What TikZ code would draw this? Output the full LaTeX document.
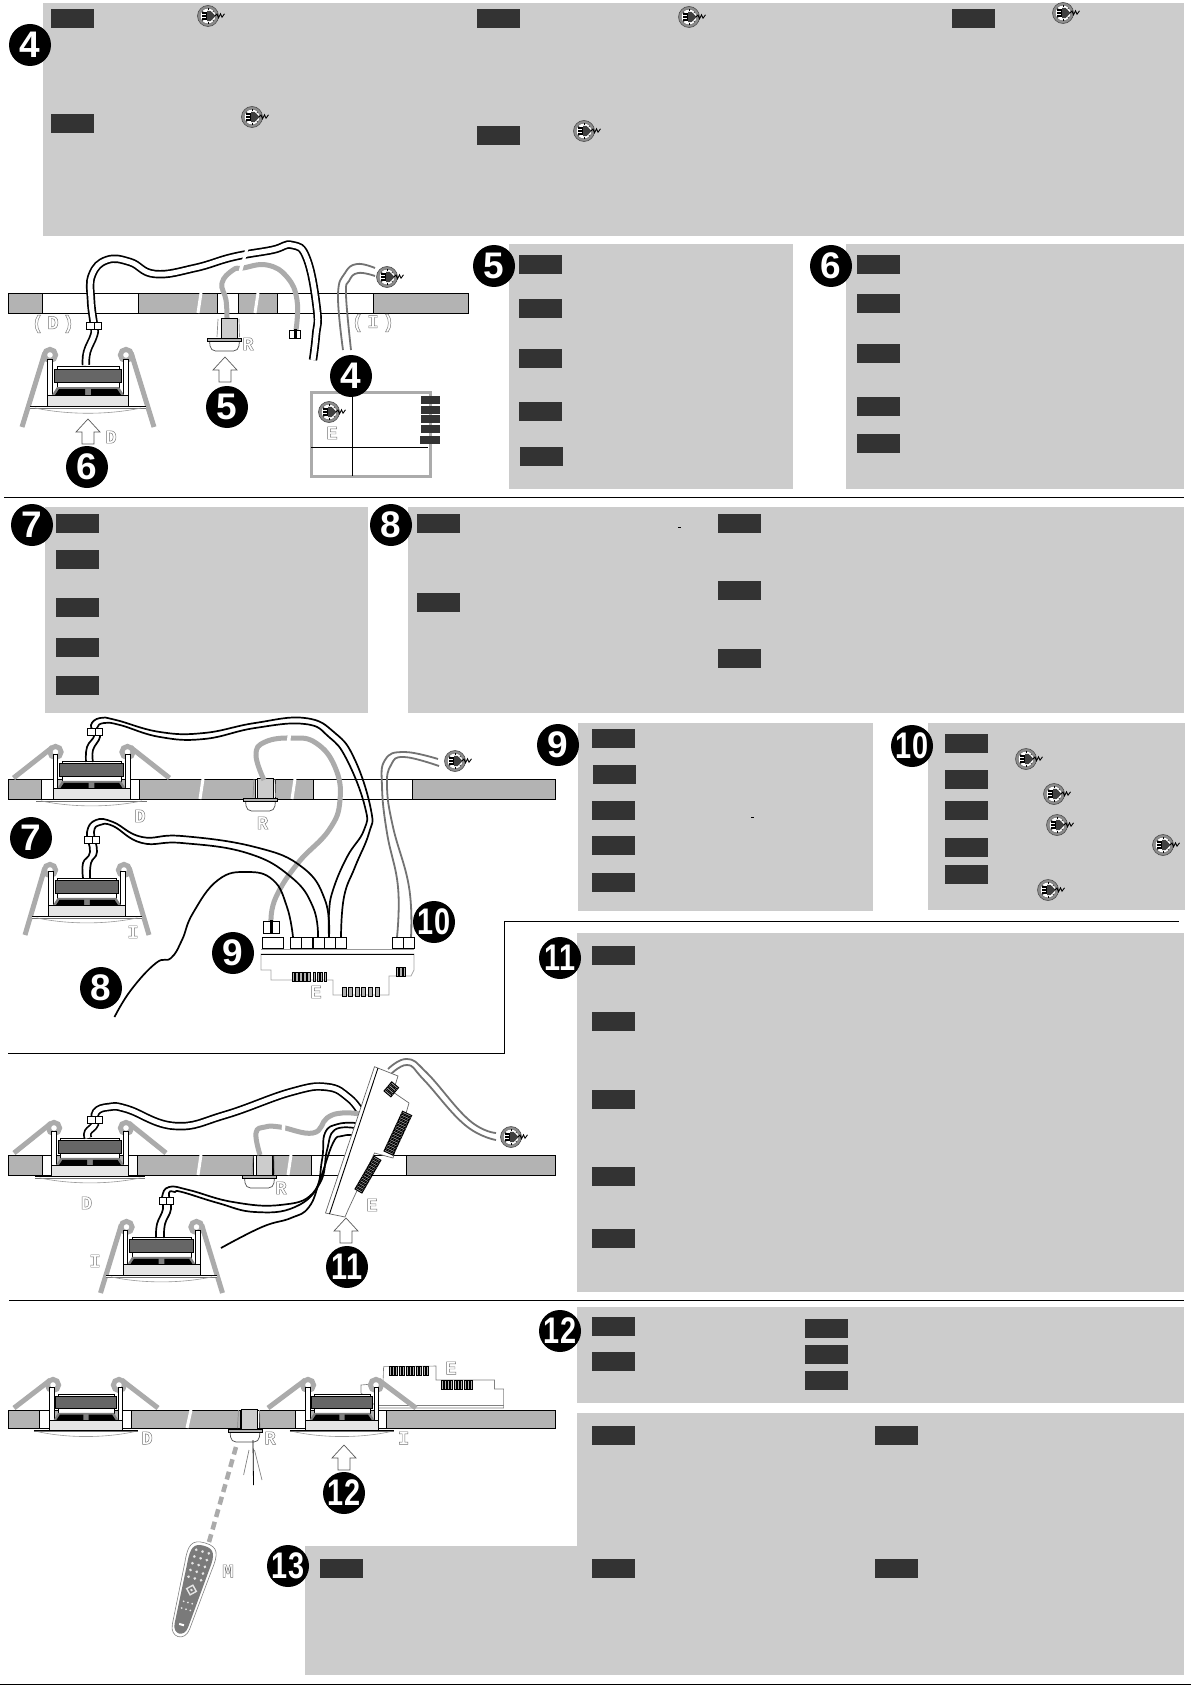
\documentclass[tikz,border=0pt]{standalone}
\usepackage{graphicx}
\usepackage{fontspec}
\newfontfamily\badgefont{Liberation Sans}[BoldFont=* Bold]
\newfontfamily\letterfont{Liberation Mono}[BoldFont=* Bold]
\usetikzlibrary{calc}
\definecolor{panelgray}{HTML}{CCCCCC}
\definecolor{tagdark}{HTML}{333333}
\definecolor{bargray}{HTML}{B3B3B3}
\definecolor{springgray}{HTML}{ABABAB}
\tikzset{
	badge/.style={circle,fill=black,text=white,font=\badgefont\bfseries\fontsize{37}{37}\selectfont,inner sep=0pt,minimum size=42pt},
	tagbox/.style={fill=tagdark,anchor=north west,inner sep=0pt,minimum width=43pt,minimum height=19pt},
	tinytag/.style={fill=tagdark,anchor=north west,inner sep=0pt,minimum width=19pt,minimum height=8pt},
	partletter/.style={font=\letterfont\bfseries\fontsize{19}{19}\selectfont,inner sep=0pt},
	wirepair/.style={line width=1.7pt,double=white,double distance=5pt},
	wireone/.style={line width=1.7pt},
	mainsone/.style={line width=1.8pt,color=black!55},
	greywire/.style={line width=5pt,color=springgray},
	gapline/.style={white,line width=3pt},
	spring/.style={line width=5pt,color=springgray},
	plugicon/.pic={
		\draw[fill=black!45,draw=black!70,line width=0.6pt] (0,0) circle (10.5);
		\draw[fill=white,draw=black!60,line width=0.4pt] (0,0) circle (7.8);
		\foreach \a in {40,90,140,220,270,320} \draw[line width=0.4pt] (\a:6) -- (\a:7.6);
		\fill[black] (-6,-4) rectangle (-1,4);
		\draw[white,line width=0.8pt] (-6,-1.3) -- (-2,-1.3) (-6,1.4) -- (-2,1.4);
		\fill[black!75] (-1,-5.2) -- (2.5,-5.2) -- (7.5,0) -- (2.5,5.2) -- (-1,5.2) -- cycle;
		\draw[line width=0.9pt] (7,0) -- (9,-2) -- (10.5,1.8) -- (12.5,-2.2) -- (14,1.2) -- (16.5,-2.2);
	},
}
\def\twodigit#1{\scalebox{0.78}[1]{#1}}
\def\hollow#1{\special{pdf:code 1 Tr 0.45 w 0.45 G}#1\special{pdf:code 0 Tr 1 w 0 G}}
\def\lampunit(#1,#2)(#3)(#4,#5)(#6,#7){
	\begin{scope}[shift={(#1,#2)}]
		\draw[spring] (-#6,#7) -- ($(-#4,#5)!5.6pt!-90:(-#6,#7)$);
		\draw[spring] (#6,#7) -- ($(#4,#5)!5.6pt!90:(#6,#7)$);
		\draw[spring,line width=5pt,fill=white] (-#4,#5) circle (5.6);
		\draw[spring,line width=5pt,fill=white] (#4,#5) circle (5.6);
		\begin{scope}[scale=#3]
			\draw[fill=white,line width=0.7pt] (-40.5,-47) rectangle (-35.5,-11);
			\draw[fill=white,line width=0.7pt] (40.5,-47) rectangle (35.5,-11);
			\draw[fill=white,line width=0.7pt] (-31,-40) rectangle (31,-36);
			\draw[fill=white,line width=0.7pt] (-31,-24) rectangle (31,-19);
			\fill[black!50] (-31,-19) -- (31,-19) -- (36,-11) -- (-36,-11) -- cycle;
			\fill[black] (-29,-17) -- (-3,-17) -- (-3,-11) -- (-33,-11) -- cycle;
			\fill[black] (29,-17) -- (3,-17) -- (3,-11) -- (33,-11) -- cycle;
			\draw[fill=black!60,line width=0.9pt] (-33.5,-37) rectangle (33.5,-24);
			\draw[fill=black!10,line width=0.7pt] (-40.5,-11) rectangle (40.5,0);
			\fill[white] (-58,0) rectangle (58,2);
			\draw[line width=0.9pt] (-58,0) -- (58,0);
			\draw[black!55,line width=0.7pt] (-58,2) -- (58,2);
			\draw[black!40,line width=0.6pt] (-53,2) .. controls (-20,9) and (20,9) .. (53,2);
		\end{scope}
	\end{scope}
}
\def\clampbox(#1,#2){
	\draw[fill=white,line width=0.8pt] (#1-7.2,#2) rectangle (#1,#2+7);
	\draw[fill=white,line width=0.8pt] (#1,#2) rectangle (#1+7.2,#2+7);
}
\def\ceilingbar(#1,#2,#3)#4{
	\draw[fill=bargray,line width=0.9pt] (8,#2) rectangle (#1,#3);
	\foreach \a/\b in {#4} \draw[fill=white,line width=0.9pt] (\a,#2) rectangle (\b,#3);
}
\def\receiver(#1,#2){
	\begin{scope}[shift={(#1,#2)}]
		\draw[black!45,line width=0.7pt] (-11,1) -- (-12,19);
		\draw[black!45,line width=0.7pt] (10,1) -- (10.5,19);
		\draw[fill=white,draw=black!70,line width=0.7pt,rounded corners=5pt] (-19.5,22) -- (-18.5,33) -- (9.5,33) -- (10.5,22);
		\draw[fill=black!20,line width=0.8pt] (-8,0) rectangle (8,20);
		\draw[fill=black!30,line width=0.8pt] (-21.5,20) rectangle (12.5,23);
	\end{scope}
}
\def\hollowarrow(#1,#2){
	\draw[black!65,fill=white,line width=0.7pt] (#1,#2) -- ++(12,13) -- ++(-6,0) -- ++(0,12) -- ++(-12,0) -- ++(0,-12) -- ++(-6,0) -- cycle;
}
\def\wirecap(#1,#2)(#3,#4){
	\draw[fill=white,line width=0.6pt] (#1-#3,#2) rectangle (#1+#3,#2+#4);
	\fill (#1-1.5,#2-1) rectangle (#1+1.5,#2+#4);
	\draw[line width=1pt] (#1-#3,#2) -- (#1+#3,#2);
}
\def\teeth(#1,#2)(#3,#4,#5)[#6]{
	\begin{scope}[shift={(#1,#2)},rotate=#6]
		\foreach \i in {1,...,#3} \draw[fill=black!30,line width=1pt] ({(\i-1)*#4},0) rectangle ++({#4*0.62},#5);
	\end{scope}
}

\begin{document}
\begin{tikzpicture}[x=1pt,y=-1pt]
	\useasboundingbox (0,0) rectangle (1191,1685);
	\fill[white] (0,0) rectangle (1191,1685);

	%%%%% PANELS %%%%%
	\foreach \xa/\ya/\xb/\yb in {43/3/1184/236, 509/244/793/489, 846/244/1184/489, 45/507/368/713, 408/507/1184/713,
		578/723/873/911, 928/723/1185/910, 577/933/1184/1292, 577/1307/1184/1403, 577/1413/1184/1548, 305/1546/1184/1675}
		\fill[panelgray] (\xa,\ya) rectangle (\xb,\yb);

	\foreach \x/\y [count=\i] in {51/9, 51/114, 477/9, 477/126, 952/9,
		519/255, 519/299, 519/349, 519/402, 520/447,
		857/255, 857/294, 857/344, 857/397, 857/434,
		56/514, 56/550, 56/598, 56/638, 56/676,
		417/514, 417/593, 718/514, 718/581, 718/649,
		591.5/729, 593/765, 591.5/801, 591.5/836, 591.5/873,
		945/734, 945/770, 945/801, 945/838, 945/865,
		591.5/946, 591.5/1012, 591.5/1090, 591.5/1167, 591.5/1229,
		591.5/1317, 591.5/1352, 805/1319, 805/1345, 805/1371,
		591.5/1426, 875/1426, 320/1559, 591.5/1559, 875/1559}
		\node[tagbox] (tag\i) at (\x,\y) {};

	\draw[line width=1pt] (678,527) -- (681,527);
	\draw[line width=1pt] (751,817) -- (754,817);

	\foreach \x/\y in {208/16, 252/117, 689/17, 584/131, 1063/13, 1026/759, 1054/794, 1057/825, 1163/845, 1048/890}
		\pic at (\x,\y) {plugicon};

	\draw[line width=1pt] (4,497.5) -- (1184,497.5);
	\draw[line width=1pt] (8,1053) -- (504,1053) -- (504,921) -- (1179,921);
	\draw[line width=1pt] (9,1300.5) -- (1184,1300.5);
	\draw[line width=1pt] (0,1684) -- (1191,1684);

	%%%%% FIRST SCENE %%%%%
	\ceilingbar(468,293,313){42/138, 217/238, 277/373}
	\draw[gapline] (201,293) -- (198,313);
	\draw[gapline] (258,293) -- (255,313);
	\lampunit(88,406)(1)(38,-51)(66,21)
	\draw[wirepair] plot[smooth,tension=0.75] coordinates {(86,365) (87,352) (94,335) (94,326) (91,300) (92,275) (107,260) (130,262) (155,274) (195,268) (233,257) (272,250) (292,245) (307,259) (317,310) (316,335) (313,360)};
	\clampbox(94,322)
	\draw[gapline] (249,242) -- (243,262);
	\draw[greywire] plot[smooth,tension=0.75] coordinates {(227,318) (226,300) (222,283) (233,270) (243,268) (267,265) (287,277) (297,300) (296,330)};
	\draw[gapline,line width=3.5pt] (243,262) -- (239,276);
	\wirecap(295,330)(5.5,8)
	\receiver(229,318)
	\hollowarrow(225,357)
	\hollowarrow(88,419)
	\draw[mainsone] plot[smooth,tension=0.75] coordinates {(375,268) (357,264) (345,273) (338,295) (343,350)};
	\draw[mainsone] plot[smooth,tension=0.75] coordinates {(375,276) (358,273) (349,281) (346,295) (351,350)};
	\pic at (387,277) {plugicon};

	\draw[springgray,line width=3pt] (311,392) rectangle (430,476);
	\draw[line width=0.9pt] (352,392) -- (352,476);
	\draw[line width=0.9pt] (311,447) -- (428,447);
	\foreach \y [count=\i] in {396,406,415,425} \node[tinytag] (mini\i) at (421,\y) {};
	\node[tinytag,minimum width=20pt] (mini5) at (420,436) {};
	\pic at (329,412) {plugicon};

	\node[partletter] (lblD1) at (53,324) {\hollow{(\hspace{4pt}D\hspace{4pt})}};
	\node[partletter] (lblI1) at (373,323) {\hollow{(\hspace{4pt}I\hspace{4pt})}};
	\node[partletter] (lblR1) at (248,344) {\hollow{R}};
	\node[partletter] (lblD2) at (111,437) {\hollow{D}};
	\node[partletter] (lblE1) at (332,433) {\hollow{E}};

	\node[badge] (panelfour) at (30,45) {4};
	\node[badge] (scenefive) at (227,407) {5};
	\node[badge] (scenesix) at (87,467) {6};
	\node[badge] (scenefour) at (351,376) {4};
	\node[badge] (panelfive) at (494,266) {5};
	\node[badge] (panelsix) at (831,266) {6};

	%%%%% SECOND SCENE %%%%%
	\node[badge] (panelseven) at (32,525) {7};
	\node[badge] (paneleight) at (391,525) {8};
	\ceilingbar(555,779,799){41/54, 130/139, 255/275, 313/412}
	\draw[gapline] (203,779) -- (200,799);
	\draw[gapline] (295,779) -- (292,799);
	\lampunit(91.5,799)(0.95)(36,-47)(78,-21)
	\lampunit(87,916)(0.95)(37,-46)(62,19)
	\receiver(265,778)
	\draw[greywire] plot[smooth,tension=0.75] coordinates {(271,921) (276,897) (298,863) (329,830) (340,800) (335,767) (316,743) (292,738) (265,742) (256,755) (264,780)};
	\draw[gapline,line width=3.5pt] (290,731) -- (288,745);
	\draw[wireone] plot[smooth,tension=0.75] coordinates {(86,762) (87,747) (94.5,735) (91,725) (100,718) (116,720) (160,732) (204,733) (255,723) (305,718) (335,733) (355,760) (371,810) (369,833) (355,867) (344,897) (341,937)};
	\draw[wireone] plot[smooth,tension=0.75] coordinates {(93,762) (93,750) (100,737) (97,728) (104,723) (120,725) (160,737) (204,739) (255,728) (305,724) (329,737) (347,760) (365,807) (364,830) (347,857) (333,890) (329,913) (329,937)};
	\clampbox(95,728)
	\draw[wireone] plot[smooth,tension=0.75] coordinates {(83,878) (83,863) (90,852) (87,832) (96,820) (113,822) (142,837) (182,836) (255,847) (302,867) (325,900) (329,937)};
	\draw[wireone] plot[smooth,tension=0.75] coordinates {(90,878) (91,863) (97,852) (94,832) (100,825) (113,826) (142,843) (182,843) (247,853) (291,877) (313,907) (318,937)};
	\clampbox(92,836)
	\draw[wireone] plot[smooth,tension=0.75] coordinates {(114.5,1017) (131,990) (156,963) (171,958) (182,940) (193,913) (218,880) (247,872) (273,880) (287,907) (293,937)};
	\draw[mainsone] plot[smooth,tension=0.75] coordinates {(438,759) (404,752) (385,760) (382,787) (387,833) (398,887) (397,937)};
	\draw[mainsone] plot[smooth,tension=0.75] coordinates {(439,766) (404,757) (391,765) (387,787) (393,827) (409,887) (411,937)};
	\pic at (455,761) {plugicon};

	\draw[black!35,fill=white,line width=0.7pt] (261,954) -- (261,970) -- (271,970) -- (271,980) -- (333,980) -- (333,995) -- (389,995) -- (389,976) -- (411,976) -- (414,970) -- (414,954) -- cycle;
	\draw[line width=1pt] (261,954) -- (414,954);
	\draw[black!40,line width=0.7pt] (261,949) -- (414,949);
	\wirecap(271,921)(8,12)
	\foreach \xa/\xb in {262/283, 290/301, 301/312, 313.5/324.5, 324.5/335, 335/346, 392/403, 403/414}
		\draw[fill=white,line width=0.9pt] (\xa,937) rectangle (\xb,948);
	\teeth(292,972)(5,3.9,9)[0]
	\teeth(313.5,972)(4,3.5,9)[0]
	\teeth(342,987)(6,6.6,9)[0]
	\teeth(396,967)(3,3.7,9)[0]

	\node[partletter] (lblD3) at (140,816) {\hollow{D}};
	\node[partletter] (lblR2) at (262.5,823) {\hollow{R}};
	\node[partletter] (lblI2) at (133,932) {\hollow{I}};
	\node[partletter] (lblE2) at (316,992) {\hollow{E}};

	\node[badge] (sceneseven) at (31,838) {7};
	\node[badge] (scenenine) at (233,953) {9};
	\node[badge] (sceneten) at (434,922) {\twodigit{10}};
	\node[badge] (sceneeight) at (101,988) {8};
	\node[badge] (panelnine) at (558,745) {9};
	\node[badge] (panelten) at (912,746) {\twodigit{10}};
	\node[badge] (paneleleven) at (560,958) {\twodigit{11}};

	%%%%% THIRD SCENE %%%%%
	\ceilingbar(555,1155,1175){42/53.5, 127/137.5, 253/273, 311/406.5}
	\draw[gapline] (201,1155) -- (198,1175);
	\draw[gapline] (291,1155) -- (288,1175);
	\lampunit(90,1176)(0.95)(36,-48)(76,-23)
	\lampunit(161.5,1275)(0.95)(35,-48)(61,18)
	\receiver(264,1155)
	\draw[wirepair] plot[smooth,tension=0.75] coordinates {(88,1138) (88,1132) (95,1124) (96,1112) (109,1107) (127,1109) (175,1126) (225,1115) (291,1092) (327,1087) (349,1098) (361,1113)};
	\clampbox(95,1116)
	\draw[greywire] plot[smooth,tension=0.75] coordinates {(260,1155) (256,1133) (265,1127) (280,1127) (313,1133) (327,1118) (342,1113) (360,1114)};
	\draw[gapline,line width=3.5pt] (284,1120) -- (283,1135);
	\draw[wireone] plot[smooth,tension=0.75] coordinates {(156,1238) (157,1224) (163,1209) (162,1197) (169,1187) (189,1190) (233,1202) (280,1205) (313,1193) (322,1160) (325,1133) (338,1124) (356,1123)};
	\draw[wireone] plot[smooth,tension=0.75] coordinates {(164,1238) (165,1224) (171,1209) (169,1193) (175,1192) (182,1192) (218,1203) (255,1212) (295,1207) (320,1183) (327,1150) (334.5,1130) (354.5,1128)};
	\clampbox(166.5,1197)
	\draw[wireone] plot[smooth,tension=0.75] coordinates {(221,1248) (262,1227) (291,1218) (309,1207) (320,1180) (333,1143) (342,1136) (354.5,1135)};
	\draw[mainsone] plot[smooth,tension=0.75] coordinates {(388,1069) (407,1059) (427,1073) (469,1120) (496,1133)};
	\draw[mainsone] plot[smooth,tension=0.75] coordinates {(388,1077) (407,1065) (424,1080) (465,1125) (496,1140)};
	\pic at (511,1137) {plugicon};

	\draw[black!60,fill=white,line width=0.7pt] (374.5,1066.7) -- (398,1076) -- (393,1092) -- (409,1103) -- (393,1158) -- (374.5,1153) -- (348,1210) -- (345,1217) -- (325.5,1213) -- cycle;
	\draw[line width=0.9pt] (378,1068) -- (329.5,1214);
	\teeth(384,1091)(4,3.3,9)[50]
	\teeth(384,1151)(15,3,10)[65]
	\teeth(355,1189)(13,3,8)[60]

	\node[partletter] (lblD4) at (86.5,1203) {\hollow{D}};
	\node[partletter] (lblR3) at (281,1188) {\hollow{R}};
	\node[partletter] (lblE3) at (372,1205) {\hollow{E}};
	\node[partletter] (lblI3) at (95,1261) {\hollow{I}};
	\hollowarrow(346,1218)
	\node[badge] (sceneeleven) at (347,1267) {\twodigit{11}};
	\node[badge] (paneltwelve) at (560,1331) {\twodigit{12}};

	%%%%% FOURTH SCENE %%%%%
	\draw[black!50,fill=white,line width=0.6pt] (361,1393) -- (361,1385) -- (383,1383) -- (383.6,1366.7) -- (436,1366) -- (436,1380) -- (494.5,1380) -- (494.5,1389) -- (503.6,1389) -- (503.6,1408) -- (378,1408) -- cycle;
	\draw[black!50,line width=0.6pt] (378,1405) -- (503.6,1405);
	\teeth(389,1366)(12,3.4,9)[0]
	\teeth(441,1380)(10,3.3,9)[0]
	\ceilingbar(555,1410,1428){39/51, 122/131.6, 240/259, 295/307, 377/386.5}
	\draw[gapline] (191,1410) -- (187,1428);
	\lampunit(86,1430)(0.9)(33,-45)(72,-22)
	\lampunit(342,1430)(0.9)(34,-45)(74,-22)
	\receiver(249.5,1409)
	\hollowarrow(344,1445)

	\draw[springgray,line width=4.5pt,dash pattern=on 8pt off 5pt] (209,1542) -- (236,1447);
	\draw[line width=0.8pt] (253,1440) -- (253.5,1485);
	\draw[black!50,line width=0.7pt] (249,1450) -- (243.6,1475);
	\draw[black!50,line width=0.7pt] (254.5,1450) -- (262,1480);

	\begin{scope}[shift={(191.5,1590)},rotate=-16]
		\draw[black!50,fill=white,line width=0.6pt] (0,-49) .. controls (14,-49) and (16,-42) .. (14,-25) -- (9,38) .. controls (8,52) and (-8,52) .. (-9,38) -- (-14,-25) .. controls (-16,-42) and (-14,-49) .. (0,-49) -- cycle;
		\fill[black!52] (0,-46) .. controls (11,-46) and (13,-40) .. (11.5,-25) -- (7,37) .. controls (6,48) and (-6,48) .. (-7,37) -- (-11.5,-25) .. controls (-13,-40) and (-11,-46) .. (0,-46) -- cycle;
		\foreach \y in {-40,-33,-26,-19,-12} \foreach \x in {-6.5,0,6.5} \fill[black!10] (\x,\y) circle (1.5);
		\draw[black!10,line width=1.4pt] (0,-5) -- (5,0) -- (0,5) -- (-5,0) -- cycle;
		\fill[black!10] (0,0) circle (1.4);
		\foreach \y in {13,20} \foreach \x in {-4.5,0,4.5} \fill[black!10] (\x,\y) circle (1);
		\fill[white] (-2.5,35) rectangle (2.5,37);
	\end{scope}

	\node[partletter] (lblD5) at (147,1438) {\hollow{D}};
	\node[partletter] (lblR4) at (270,1438) {\hollow{R}};
	\node[partletter] (lblI4) at (403.6,1438) {\hollow{I}};
	\node[partletter] (lblE4) at (451,1368) {\hollow{E}};
	\node[partletter] (lblM) at (228,1571) {\hollow{M}};

	\node[badge] (scenetwelve) at (344,1493) {\twodigit{12}};
	\node[badge] (panelthirteen) at (288,1566) {\twodigit{13}};
\end{tikzpicture}
\end{document}
